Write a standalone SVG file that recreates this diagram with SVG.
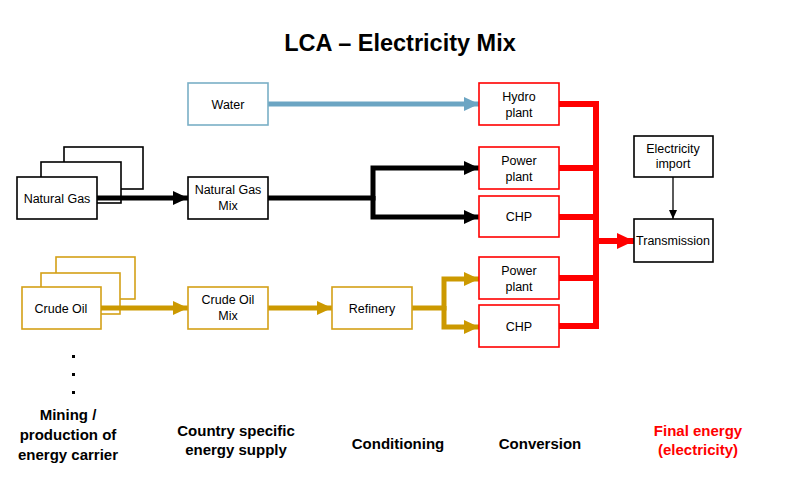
<svg xmlns="http://www.w3.org/2000/svg" width="800" height="498" viewBox="0 0 800 498">
<style>
.bg{fill:#fff}
.box{fill:#fff;stroke-width:1.6}
.k{stroke:#000}
.g{stroke:#D4A017}
.b{stroke:#7AAFC6}
.r{stroke:#FF0000}
.t{font-family:"Liberation Sans",Arial,sans-serif;font-size:12.5px;fill:#000;text-anchor:middle}
.h{font-family:"Liberation Sans",Arial,sans-serif;font-size:15px;font-weight:bold;fill:#000;text-anchor:middle}
.red{fill:#FF0000}
.title{font-family:"Liberation Sans",Arial,sans-serif;font-size:23.5px;font-weight:bold;fill:#000;text-anchor:middle}
.ln{fill:none;stroke-width:5;stroke-linejoin:miter;stroke-linecap:butt}
</style>
<defs>
<marker id="ak" markerUnits="userSpaceOnUse" markerWidth="16" markerHeight="14" refX="15" refY="7" orient="auto"><path d="M0,0 L15,7 L0,14 z" fill="#000"/></marker>
<marker id="ag" markerUnits="userSpaceOnUse" markerWidth="16" markerHeight="14" refX="15" refY="7" orient="auto"><path d="M0,0 L15,7 L0,14 z" fill="#CC9900"/></marker>
<marker id="ab" markerUnits="userSpaceOnUse" markerWidth="16" markerHeight="14" refX="15" refY="7" orient="auto"><path d="M0,0 L15,7 L0,14 z" fill="#6CA5C3"/></marker>
<marker id="ar" markerUnits="userSpaceOnUse" markerWidth="18" markerHeight="16" refX="17" refY="8" orient="auto"><path d="M0,0 L17,8 L0,16 z" fill="#FF0000"/></marker>
<marker id="as" markerUnits="userSpaceOnUse" markerWidth="10" markerHeight="8" refX="9" refY="4" orient="auto"><path d="M0,0 L9,4 L0,8 z" fill="#000"/></marker>
</defs>
<rect class="bg" x="0" y="0" width="800" height="498"/>
<text class="title" x="400" y="51">LCA – Electricity Mix</text>

<g id="natural-gas">
<rect class="box k" x="64" y="147" width="79" height="42"/>
<rect class="box k" x="41" y="162" width="80" height="41"/>
<rect class="box k" x="17" y="177" width="80" height="42"/>
<text class="t" x="57" y="202.5">Natural Gas</text>
</g>
<g id="crude-oil">
<rect class="box g" x="56" y="257" width="79" height="42"/>
<rect class="box g" x="41" y="273" width="79" height="41"/>
<rect class="box g" x="22" y="287" width="79" height="42"/>
<text class="t" x="61" y="312.5">Crude Oil</text>
</g>
<g id="dots">
<rect x="72" y="355" width="3" height="3" fill="#000"/>
<rect x="72" y="373" width="3" height="3" fill="#000"/>
<rect x="72" y="391" width="3" height="3" fill="#000"/>
</g>

<g id="connectors">
<path class="ln" d="M268,104 H479" stroke="#6CA5C3" marker-end="url(#ab)"/>
<path class="ln" d="M97,198 H188" stroke="#000" marker-end="url(#ak)"/>
<path class="ln" d="M268,198 H373 V168 H479" stroke="#000" marker-end="url(#ak)"/>
<path class="ln" d="M373,196 V217 H479" stroke="#000" marker-end="url(#ak)"/>
<path class="ln" d="M101,308 H188" stroke="#CC9900" marker-end="url(#ag)"/>
<path class="ln" d="M268,308 H332" stroke="#CC9900" marker-end="url(#ag)"/>
<path class="ln" d="M412,308 H444 V279 H479" stroke="#CC9900" marker-end="url(#ag)"/>
<path class="ln" d="M444,306 V327 H479" stroke="#CC9900" marker-end="url(#ag)"/>
<path d="M559,104 H596 V329 M559,168 H596 M559,217 H596 M559,278 H596 M559,326 H596" fill="none" stroke="#FF0000" stroke-width="6"/>
<path d="M594,241 H634" fill="none" stroke="#FF0000" stroke-width="6" marker-end="url(#ar)"/>
<path d="M673,177 V219" fill="none" stroke="#000" stroke-width="1.3" marker-end="url(#as)"/>
</g>

<g id="water"><rect class="box b" x="188" y="83" width="80" height="42"/><text class="t" x="228" y="108.5">Water</text></g>
<g id="natural-gas-mix"><rect class="box k" x="188" y="177" width="80" height="42"/><text class="t" x="228" y="194">Natural Gas</text><text class="t" x="228" y="210">Mix</text></g>
<g id="crude-oil-mix"><rect class="box g" x="188" y="287" width="80" height="42"/><text class="t" x="228" y="304">Crude Oil</text><text class="t" x="228" y="320">Mix</text></g>
<g id="refinery"><rect class="box g" x="332" y="287" width="80" height="42"/><text class="t" x="372" y="312.5">Refinery</text></g>
<g id="hydro-plant"><rect class="box r" x="479" y="83" width="80" height="42"/><text class="t" x="519" y="100.5">Hydro</text><text class="t" x="519" y="116.5">plant</text></g>
<g id="power-plant-gas"><rect class="box r" x="479" y="147" width="80" height="42"/><text class="t" x="519" y="164.5">Power</text><text class="t" x="519" y="180.5">plant</text></g>
<g id="chp-gas"><rect class="box r" x="479" y="196" width="80" height="41"/><text class="t" x="519" y="221">CHP</text></g>
<g id="power-plant-oil"><rect class="box r" x="479" y="257" width="80" height="42"/><text class="t" x="519" y="274.5">Power</text><text class="t" x="519" y="290.5">plant</text></g>
<g id="chp-oil"><rect class="box r" x="479" y="305" width="80" height="42"/><text class="t" x="519" y="330.5">CHP</text></g>
<g id="electricity-import"><rect class="box k" x="634" y="136" width="79" height="41"/><text class="t" x="673" y="152.5">Electricity</text><text class="t" x="673" y="168">import</text></g>
<g id="transmission"><rect class="box k" x="634" y="219" width="79" height="43"/><text class="t" x="673" y="245">Transmission</text></g>

<g id="stage-labels">
<text class="h" x="68" y="420">Mining /</text>
<text class="h" x="68" y="440">production of</text>
<text class="h" x="68" y="460">energy carrier</text>
<text class="h" x="236" y="436">Country specific</text>
<text class="h" x="236" y="455">energy supply</text>
<text class="h" x="398" y="449">Conditioning</text>
<text class="h" x="540" y="449">Conversion</text>
<text class="h red" x="698" y="436">Final energy</text>
<text class="h red" x="698" y="455">(electricity)</text>
</g>
</svg>
